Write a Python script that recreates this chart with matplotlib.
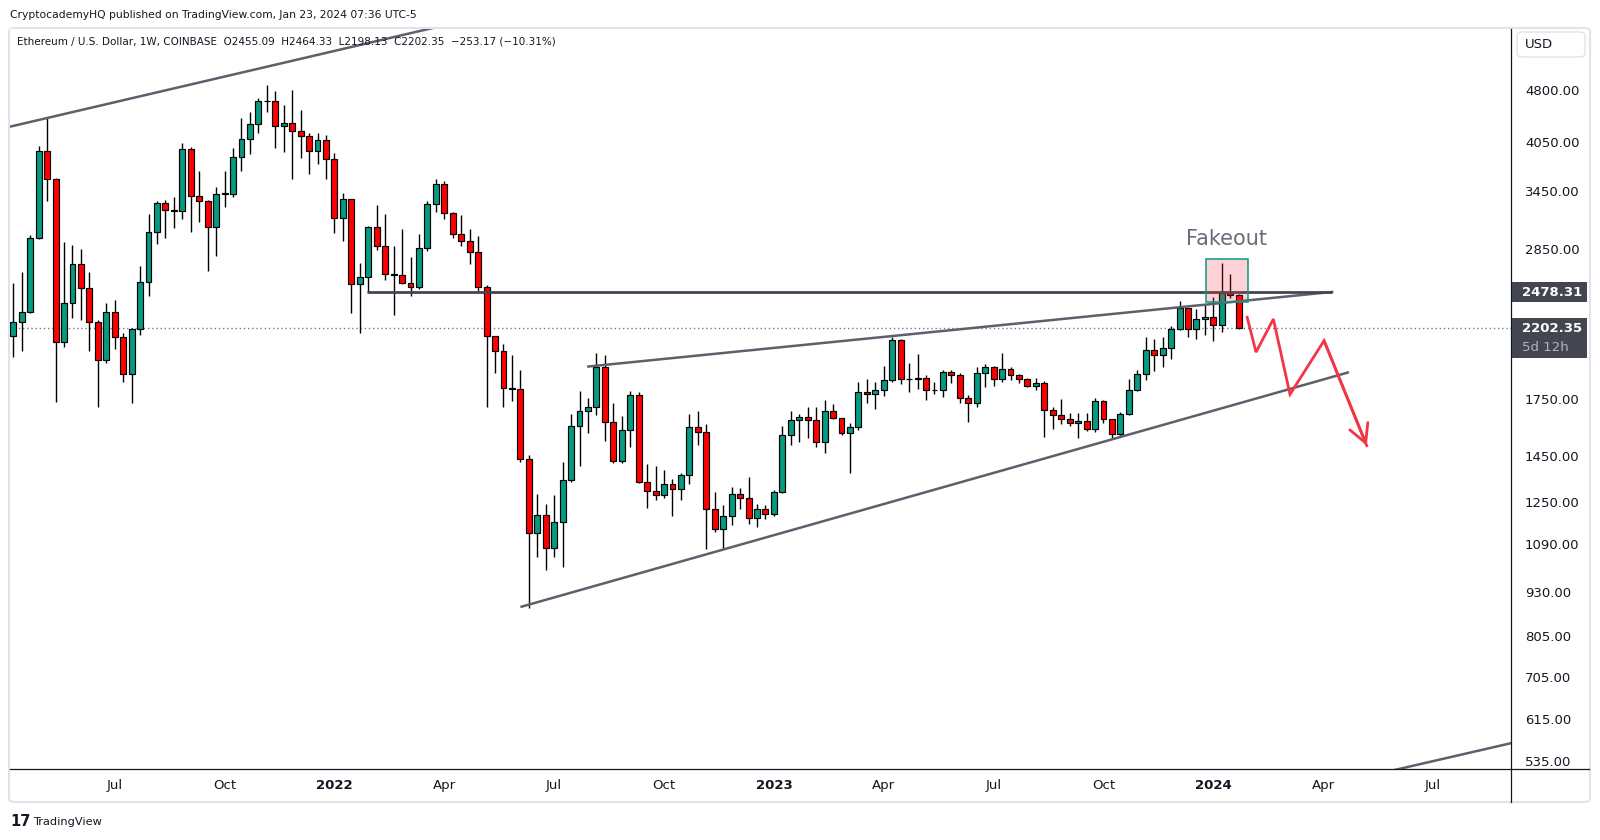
import numpy as np
import matplotlib
matplotlib.use('Agg')
import matplotlib.pyplot as plt
from matplotlib.patches import Rectangle, FancyBboxPatch
from matplotlib.lines import Line2D
from matplotlib.ticker import NullLocator, FixedLocator, FixedFormatter

# ---------------- data (weekly ETH/USD, first bar = week of 2021-04-12) ----------------
opens = [2150, 2246, 2320, 2955, 3930, 3583, 2104, 2390, 2715, 2510,
         2246, 1984, 2320, 2138, 1895, 2195, 2560, 3013, 3313, 3238,
         3235, 3952, 3396, 3335, 3063, 3418, 3412, 3850, 4083, 4288,
         4623, 4623, 4260, 4302, 4199, 4131, 3926, 4070, 3825, 3158,
         3360, 2543, 2601, 3063, 2879, 2627, 2620, 2554, 2518, 2860,
         3302, 3525, 3206, 2994, 2927, 2823, 2518, 2145, 2043, 1810,
         1805, 1436, 1127, 1195, 1073, 1168, 1341, 1599, 1680, 1703,
         1939, 1620, 1426, 1578, 1769, 1335, 1294, 1276, 1323, 1304,
         1362, 1594, 1568, 1219, 1142, 1191, 1280, 1264, 1184, 1219,
         1199, 1288, 1553, 1630, 1646, 1630, 1518, 1679, 1641, 1563,
         1594, 1787, 1775, 1798, 1858, 2118, 1864, 1868, 1875, 1798,
         1800, 1908, 1889, 1752, 1723, 1900, 1939, 1864, 1926, 1889,
         1864, 1826, 1840, 1684, 1657, 1636, 1614, 1625, 1584, 1735,
         1636, 1558, 1662, 1798, 1895, 2050, 2017, 2063, 2195, 2351,
         2195, 2268, 2283, 2224, 2469, 2455.09]
highs = [2556, 2647, 2987, 3995, 4373, 3595, 2920, 2894, 2853, 2647,
         2263, 2390, 2416, 2171, 2204, 2700, 3199, 3338, 3349, 3382,
         4034, 3982, 3682, 3349, 3491, 3682, 3969, 4377, 4464, 4669,
         4876, 4781, 4568, 4797, 4493, 4164, 4172, 4141, 3905, 3423,
         3365, 2726, 3076, 3295, 3199, 2882, 3046, 2780, 2997, 3338,
         3587, 3563, 3215, 3189, 3043, 2978, 2537, 2150, 2093, 2019,
         1922, 1456, 1281, 1241, 1277, 1421, 1664, 1794, 1753, 2032,
         2019, 1725, 1653, 1794, 1790, 1412, 1404, 1386, 1346, 1371,
         1664, 1680, 1611, 1288, 1237, 1311, 1306, 1355, 1241, 1237,
         1298, 1599, 1680, 1664, 1703, 1702, 1740, 1719, 1645, 1614,
         1846, 1866, 1848, 1947, 2138, 2125, 1967, 2025, 1891, 1848,
         1922, 1922, 1900, 1771, 1939, 1963, 1945, 2032, 1939, 1895,
         1875, 1875, 1851, 1702, 1748, 1668, 1668, 1668, 1755, 1742,
         1640, 1674, 1864, 1920, 2138, 2125, 2138, 2217, 2408, 2355,
         2343, 2374, 2437, 2723, 2627, 2464.33]
lows = [2008, 2047, 2313, 2950, 3341, 1732, 2074, 2280, 2263, 2047,
        1704, 1965, 2057, 1850, 1723, 2155, 2450, 2904, 2961, 3059,
        3150, 3019, 3120, 2658, 2792, 3276, 3385, 3686, 3896, 4164,
        4464, 3969, 3917, 3583, 3841, 3646, 3770, 3590, 3009, 2932,
        2313, 2167, 2482, 2844, 2582, 2300, 2545, 2450, 2504, 2838,
        3220, 3150, 2961, 2885, 2720, 2490, 1704, 1905, 1704, 1738,
        1424, 883, 1044, 1000, 1044, 1009, 1335, 1406, 1566, 1659,
        1525, 1420, 1420, 1493, 1330, 1223, 1257, 1266, 1194, 1258,
        1326, 1506, 1070, 1133, 1073, 1158, 1219, 1161, 1152, 1182,
        1194, 1285, 1506, 1518, 1539, 1496, 1467, 1636, 1553, 1374,
        1578, 1723, 1693, 1767, 1848, 1834, 1790, 1808, 1742, 1775,
        1761, 1844, 1723, 1623, 1704, 1820, 1826, 1848, 1858, 1840,
        1816, 1803, 1546, 1584, 1609, 1603, 1537, 1573, 1568, 1614,
        1532, 1550, 1658, 1795, 1858, 1914, 1939, 1991, 2190, 2138,
        2125, 2152, 2111, 2174, 2429, 2198.13]
closes = [2246, 2320, 2955, 3930, 3583, 2104, 2390, 2715, 2510, 2246,
          1984, 2320, 2138, 1895, 2195, 2560, 3013, 3313, 3238, 3230,
          3952, 3396, 3335, 3063, 3418, 3420, 3850, 4083, 4288, 4623,
          4630, 4260, 4302, 4199, 4131, 3926, 4070, 3825, 3158, 3360,
          2543, 2601, 3063, 2879, 2627, 2620, 2554, 2518, 2860, 3302,
          3525, 3206, 2994, 2927, 2823, 2518, 2145, 2043, 1810, 1805,
          1436, 1127, 1195, 1073, 1168, 1341, 1599, 1680, 1703, 1939,
          1620, 1426, 1578, 1769, 1335, 1294, 1276, 1323, 1304, 1362,
          1594, 1568, 1219, 1142, 1191, 1280, 1264, 1184, 1219, 1199,
          1288, 1553, 1630, 1646, 1630, 1518, 1679, 1641, 1563, 1594,
          1787, 1775, 1798, 1858, 2118, 1864, 1868, 1875, 1798, 1800,
          1908, 1889, 1752, 1723, 1900, 1939, 1864, 1926, 1889, 1864,
          1826, 1840, 1684, 1657, 1636, 1614, 1625, 1584, 1735, 1636,
          1558, 1662, 1798, 1895, 2050, 2017, 2063, 2195, 2351, 2195,
          2268, 2283, 2224, 2469, 2453, 2202.35]

tick_bars = [12, 25, 38, 51, 64, 77, 90, 103, 116, 129, 142, 155, 168]
tick_labels = ['Jul', 'Oct', '2022', 'Apr', 'Jul', 'Oct', '2023', 'Apr', 'Jul', 'Oct', '2024', 'Apr', 'Jul']
price_ticks = [535, 615, 705, 805, 930, 1090, 1250, 1450, 1750, 2850, 3450, 4050, 4800]

resistance = 2478.31
last_price = 2202.35

upper_channel_x = [-0.4, 60.0]
upper_channel_y = [4255, 6280]
wedge_top_x = [67.9, 156.2]
wedge_top_y = [1943, 2481]
wedge_bot_x = [60.0, 158.05]
wedge_bot_y = [886, 1908]
lower_right_x = [160.0, 180.0]
lower_right_y = [509, 578]
res_span = [41.8, 156.0]
fake_x = [141.1, 146.1]
fake_y = [2398, 2759]
proj_x = [146.0, 147.05, 149.1, 151.07, 155.1, 160.15]
proj_y = [2283, 2037, 2270, 1775, 2115, 1501]

# ---------------- figure ----------------
W, H = 1600, 840
fig = plt.figure(figsize=(W / 100, H / 100), dpi=100)
fig.patch.set_facecolor('white')


def fx(px):
    return px / W


def fy(py):
    return 1 - py / H


AX_L, AX_R, AX_T, AX_B = 10.2, 1511.0, 29.0, 768.5
ax = fig.add_axes([fx(AX_L), fy(AX_B), (AX_R - AX_L) / W, (AX_B - AX_T) / H])
ax.set_facecolor('white')
ax.set_yscale('log')
ax.set_xlim(-0.367, 177.22)
ax.set_ylim(522.8, 5854.6)

GREEN = '#089981'
RED = '#ff0000'
TXT = '#131722'

x = np.arange(len(closes))
o = np.array(opens, float)
c = np.array(closes, float)
h = np.array(highs, float)
l = np.array(lows, float)
up = c >= o
cols = np.where(up, GREEN, RED)
bottom = np.minimum(o, c)
height = np.maximum(np.abs(c - o), bottom * 0.0015)

ax.vlines(x, l, h, color='black', linewidth=1.0, zorder=2)
ax.bar(x, height, bottom=bottom, width=0.7, color=cols, edgecolor='black',
       linewidth=0.85, zorder=3)

# drawings
LINEC = '#5d606b'
ax.plot(upper_channel_x, upper_channel_y, color=LINEC, lw=1.8, zorder=4, solid_capstyle='butt')
ax.plot(wedge_top_x, wedge_top_y, color=LINEC, lw=1.8, zorder=4, solid_capstyle='butt')
ax.plot(wedge_bot_x, wedge_bot_y, color=LINEC, lw=1.8, zorder=4, solid_capstyle='butt')
ax.plot(lower_right_x, lower_right_y, color=LINEC, lw=1.8, zorder=4, solid_capstyle='butt')
ax.hlines(resistance, res_span[0], res_span[1], color='#434651', lw=2.0, zorder=4)
ax.axhline(last_price, color='#787b86', lw=1.0, linestyle=(0, (1, 2)), zorder=1)

ax.add_patch(Rectangle((fake_x[0], fake_y[0]), fake_x[1] - fake_x[0], fake_y[1] - fake_y[0],
                       facecolor=(0.949, 0.212, 0.271, 0.22), edgecolor=GREEN, lw=1.1, zorder=5))
ax.text(143.56, 2951, 'Fakeout', ha='center', va='center', fontsize=15, color='#6a6d78', zorder=6)

ax.plot(proj_x, proj_y, color='#f23645', lw=2.0, zorder=6, solid_joinstyle='miter')
ax.annotate('', xy=(proj_x[-1], proj_y[-1]), xytext=(proj_x[-2], proj_y[-2]),
            arrowprops=dict(arrowstyle='->,head_length=0.65,head_width=0.35', color='#f23645',
                            lw=2.0, shrinkA=0, shrinkB=0, mutation_scale=20), zorder=6)

# axes ticks
for s in ax.spines.values():
    s.set_visible(False)
ax.yaxis.tick_right()
ax.yaxis.set_major_locator(FixedLocator(price_ticks))
ax.yaxis.set_major_formatter(FixedFormatter([f'{v:.2f}' for v in price_ticks]))
ax.yaxis.set_minor_locator(NullLocator())
ax.tick_params(axis='y', length=0, pad=10, labelsize=9.5, labelcolor=TXT)
ax.set_xticks(tick_bars)
ax.set_xticklabels(tick_labels)
for lbl in ax.get_xticklabels():
    if lbl.get_text().isdigit():
        lbl.set_fontweight('bold')
ax.tick_params(axis='x', length=0, pad=7.5, labelsize=9.5, labelcolor=TXT)

# frame & separators
fig.add_artist(FancyBboxPatch((fx(9), fy(802)), (1590 - 9) / W, (802 - 28) / H,
                              boxstyle='round,pad=0,rounding_size=0.004',
                              transform=fig.transFigure, facecolor='none',
                              edgecolor='#e0e3eb', lw=1.5, zorder=0))
fig.add_artist(Line2D([fx(AX_R), fx(AX_R)], [fy(28.5), fy(802)], transform=fig.transFigure,
                      color=TXT, lw=0.9))
fig.add_artist(Line2D([fx(10), fx(1589)], [fy(AX_B), fy(AX_B)], transform=fig.transFigure,
                      color=TXT, lw=0.9))

# USD box
fig.add_artist(FancyBboxPatch((fx(1517), fy(57)), 68 / W, 25 / H,
                              boxstyle='round,pad=0,rounding_size=0.004',
                              transform=fig.transFigure, facecolor='white',
                              edgecolor='#e0e3eb', lw=1.0))
fig.text(fx(1525), fy(44.5), 'USD', ha='left', va='center', fontsize=9.5, color=TXT)

# price label boxes
fig.canvas.draw()


def ydisp(v):
    return ax.transData.transform((0, v))[1]


yr = ydisp(resistance)
fig.add_artist(Rectangle((fx(1512), (yr - 10) / H), 75 / W, 20 / H, transform=fig.transFigure,
                         facecolor='#434651', edgecolor='none', zorder=5))
fig.text(fx(1522), yr / H, f'{resistance:.2f}', ha='left', va='center', fontsize=9.5,
         color='white', fontweight='bold', zorder=6)
yl = ydisp(last_price)
fig.add_artist(Rectangle((fx(1512), (yl - 30) / H), 75 / W, 40 / H, transform=fig.transFigure,
                         facecolor='#434651', edgecolor='none', zorder=5))
fig.text(fx(1522), yl / H, f'{last_price:.2f}', ha='left', va='center', fontsize=9.5,
         color='white', fontweight='bold', zorder=6)
fig.text(fx(1522), (yl - 19) / H, '5d 12h', ha='left', va='center', fontsize=9.5,
         color='#b2b5be', zorder=6)

# header texts
renderer = fig.canvas.get_renderer()


def fit(t, width_px):
    bb = t.get_window_extent(renderer)
    t.set_fontsize(t.get_fontsize() * width_px / bb.width)


t1 = fig.text(fx(10), fy(15), 'CryptocademyHQ published on TradingView.com, Jan 23, 2024 07:36 UTC-5',
              ha='left', va='center', fontsize=9, color=TXT)
fit(t1, 406)
t2 = fig.text(fx(17), fy(41),
              'Ethereum / U.S. Dollar, 1W, COINBASE  O2455.09  H2464.33  L2198.13  C2202.35  \u2212253.17 (\u221210.31%)',
              ha='left', va='center', fontsize=9, color=TXT)
fit(t2, 538)

# TradingView logo
fig.text(fx(10), fy(822), '17', ha='left', va='center', fontsize=10.5, fontweight='heavy',
         color=TXT)
t3 = fig.text(fx(33), fy(822), 'TradingView', ha='left', va='center', fontsize=9, color=TXT)
fit(t3, 69)

fig.savefig('out.png', dpi=100, facecolor='white')
